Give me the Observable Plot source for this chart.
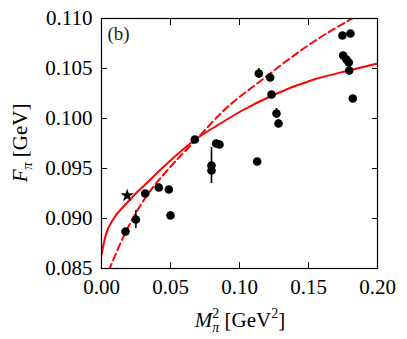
<!DOCTYPE html>
<html>
<head>
<meta charset="utf-8">
<script src="https://cdn.jsdelivr.net/npm/d3@7"></script>
<script src="https://cdn.jsdelivr.net/npm/@observablehq/plot@0.6"></script>
<style>
  html, body { margin: 0; padding: 0; background: #fff; }
  svg text { font-family: "Liberation Serif", "DejaVu Serif", serif; }
</style>
</head>
<body>
<div id="chart"></div>
<script>
// Lattice data points: M_pi^2 [GeV^2], F_pi [GeV], error
const mpi2 = [0.0174, 0.0249, 0.0317, 0.0415, 0.0488, 0.0500, 0.0676, 0.0797, 0.0797, 0.0831, 0.0855,
              0.1128, 0.1140, 0.1222, 0.1232, 0.1268, 0.1283, 0.1746, 0.1804, 0.1751, 0.1775, 0.1792, 0.1795, 0.1821];
const fpi  = [0.0887, 0.0899, 0.0925, 0.0931, 0.0929, 0.0903, 0.0979, 0.0953, 0.0948, 0.0975, 0.0974,
              0.0957, 0.1045, 0.1041, 0.1024, 0.1005, 0.0995, 0.1083, 0.1085, 0.1063, 0.1059, 0.1056, 0.1048, 0.1020];
const ferr = [0.0002, 0.0009, 0.0001, 0.0001, 0.0001, 0.0004, 0.0001, 0.0018, 0.0003, 0.0002, 0.0001,
              0.0003, 0.0005, 0.0002, 0.0001, 0.0005, 0.0004, 0.0001, 0.0001, 0.0002, 0.0001, 0.0001, 0.0003, 0.0001];

// Physical point (star)
const starX = [0.0186];
const starY = [0.0923];

// Solid fit curve
const solidX = [0, 0.003, 0.0089, 0.0174, 0.0234, 0.0317, 0.0476, 0.068, 0.085, 0.1007, 0.1237, 0.1539, 0.1792, 0.2];
const solidY = [0.0864, 0.0883, 0.0900, 0.0914, 0.0923, 0.0934, 0.0955, 0.0979, 0.0994, 0.1007, 0.1023, 0.1039, 0.1048, 0.1055];

// Dashed fit curve
const dashX = [0.0053, 0.0174, 0.0319, 0.0476, 0.068, 0.0886, 0.1176, 0.1297, 0.1539, 0.1804, 0.2];
const dashY = [0.0848, 0.0886, 0.0921, 0.0948, 0.0978, 0.1008, 0.1040, 0.1053, 0.1077, 0.1099, 0.1114];

// Ticks
const xTicks = [0, 0.05, 0.10, 0.15, 0.20];
const yTicks = [0.085, 0.090, 0.095, 0.100, 0.105, 0.110];

const points = mpi2.map((x, i) => ({x, y: fpi[i], e: ferr[i]}));
const star = starX.map((x, i) => ({x, y: starY[i]}));
const solid = solidX.map((x, i) => ({x, y: solidY[i]}));
const dashed = dashX.map((x, i) => ({x, y: dashY[i]}));

const font = "Liberation Serif, DejaVu Serif, serif";

const chart = Plot.plot({
  width: 407,
  height: 339,
  marginLeft: 101,
  marginRight: 30,
  marginTop: 18,
  marginBottom: 71,
  style: {fontFamily: font, fontSize: "21px", background: "#fff", color: "#000"},
  x: {domain: [0, 0.2]},
  y: {domain: [0.085, 0.110]},
  marks: [
    Plot.line(solid, {x: "x", y: "y", stroke: "#ff0000", strokeWidth: 2, curve: "monotone-x", clip: true}),
    Plot.line(dashed, {x: "x", y: "y", stroke: "#ff0000", strokeWidth: 2, strokeDasharray: "7,4", curve: "monotone-x", clip: true}),
    Plot.ruleX(points, {x: "x", y1: d => d.y - d.e, y2: d => d.y + d.e, stroke: "#000", strokeWidth: 1.6}),
    Plot.dot(points, {x: "x", y: "y", r: 4.3, fill: "#000"}),
    Plot.dot(star, {x: "x", y: "y", symbol: "star", r: 4.2, fill: "#000"}),
    Plot.text(["(b)"], {frameAnchor: "top-left", dx: 6, dy: 8, textAnchor: "start", lineAnchor: "top", fontSize: 19, fill: "#222"}),
    Plot.axisX(xTicks, {anchor: "bottom", tickSize: -6, tickPadding: 17, tickFormat: d3.format(".2f"), label: null, fontSize: 21}),
    Plot.axisX(xTicks, {anchor: "top", tickSize: -6, tickFormat: () => "", label: null}),
    Plot.axisY(yTicks, {anchor: "left", tickSize: -6, tickPadding: 15, tickFormat: d3.format(".3f"), label: null, fontSize: 21}),
    Plot.axisY(yTicks, {anchor: "right", tickSize: -6, tickFormat: () => "", label: null}),
    Plot.frame({stroke: "#000", strokeWidth: 1.2})
  ]
});

document.getElementById("chart").appendChild(chart);

const svg = d3.select(chart);
svg.selectAll("text").style("font-family", font);
svg.selectAll("[aria-label='x-axis tick label'] text, [aria-label='y-axis tick label'] text").style("font-size", "21px");

// y-axis label: F_pi [GeV]
const yl = svg.append("text")
  .attr("transform", "translate(27,143) rotate(-90)")
  .attr("text-anchor", "middle")
  .style("font-family", font)
  .style("font-size", "21px")
  .attr("fill", "#000");
yl.append("tspan").attr("font-style", "italic").text("F");
yl.append("tspan").style("font-size", "14px").attr("font-style", "italic").attr("dy", 5).text("π");
yl.append("tspan").attr("dy", -5).text(" [GeV]");

// x-axis label: M_pi^2 [GeV^2]
const xl = svg.append("text")
  .attr("x", 240)
  .attr("y", 327)
  .attr("text-anchor", "middle")
  .style("font-family", font)
  .style("font-size", "21px")
  .attr("fill", "#000");
xl.append("tspan").attr("font-style", "italic").text("M");
xl.append("tspan").style("font-size", "14px").attr("dy", -9).text("2");
xl.append("tspan").style("font-size", "14px").attr("font-style", "italic").attr("dx", -7).attr("dy", 14).text("π");
xl.append("tspan").attr("dy", -5).text(" [GeV");
xl.append("tspan").style("font-size", "14px").attr("dy", -9).text("2");
xl.append("tspan").attr("dy", 9).text("]");
</script>
</body>
</html>
